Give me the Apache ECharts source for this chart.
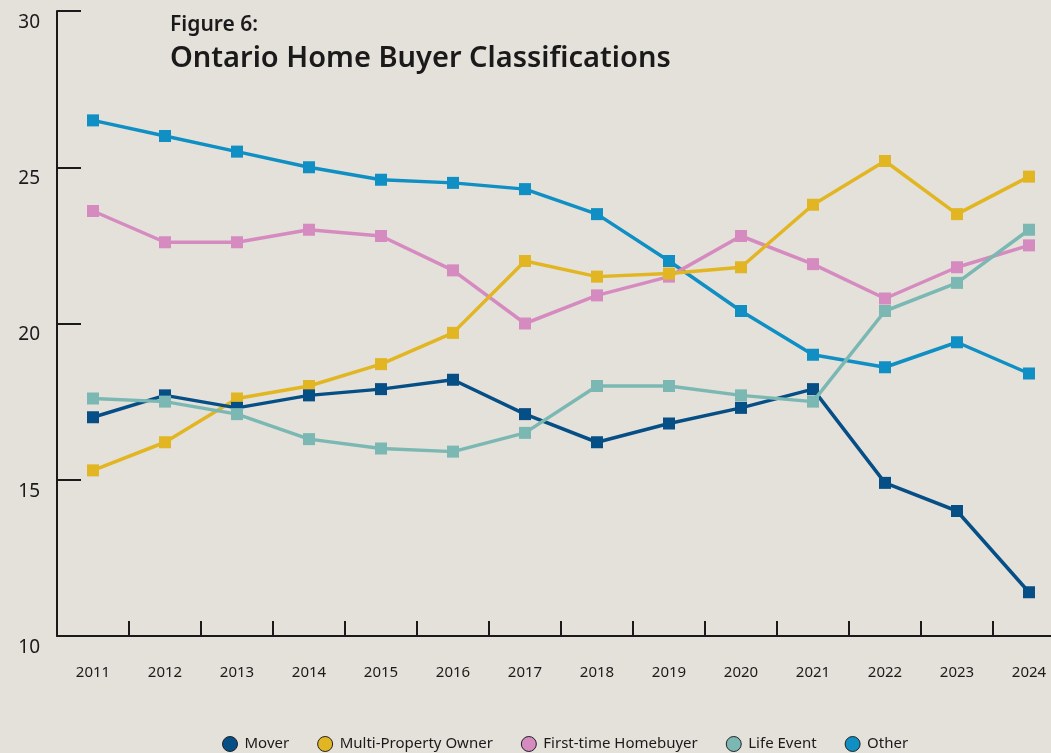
<!DOCTYPE html>
<html>
<head>
<meta charset="utf-8">
<script src="https://cdn.jsdelivr.net/npm/echarts@6/dist/echarts.min.js"></script>
<style>
  html, body { margin: 0; padding: 0; background: #e4e0da; overflow: hidden; }
  /* the figure's x axis runs past the right edge, so the canvas is a bit wider than the window */
  #chart { width: 1065px; height: 753px; }
</style>
</head>
<body>
<div id="chart"></div>
<script>
  // data
  const years = ['2011', '2012', '2013', '2014', '2015', '2016', '2017', '2018', '2019', '2020', '2021', '2022', '2023', '2024']
  const mover = [17.0, 17.7, 17.3, 17.7, 17.9, 18.2, 17.1, 16.2, 16.8, 17.3, 17.9, 14.9, 14.0, 11.4]
  const multiProperty = [15.3, 16.2, 17.6, 18.0, 18.7, 19.7, 22.0, 21.5, 21.6, 21.8, 23.8, 25.2, 23.5, 24.7]
  const firstTime = [23.6, 22.6, 22.6, 23.0, 22.8, 21.7, 20.0, 20.9, 21.5, 22.8, 21.9, 20.8, 21.8, 22.5]
  const lifeEvent = [17.6, 17.5, 17.1, 16.3, 16.0, 15.9, 16.5, 18.0, 18.0, 17.7, 17.5, 20.4, 21.3, 23.0]
  const other = [26.5, 26.0, 25.5, 25.0, 24.6, 24.5, 24.3, 23.5, 22.0, 20.4, 19.0, 18.6, 19.4, 18.4]

  const font = 'Noto Sans'
  const ink = '#1a1a1a'

  const makeSeries = (name, data, color, z) => ({
    name: name,
    type: 'line',
    data: data,
    z: z,
    symbol: 'rect',
    symbolSize: 12,
    color: color,
    lineStyle: { width: 3.5, color: color },
    itemStyle: { color: color },
    emphasis: { disabled: true }
  })

  const chart = echarts.init(document.getElementById('chart'))

  const option = {
    backgroundColor: '#e4e0da',
    animation: false,
    textStyle: { fontFamily: font },
    title: [
      {
        text: 'Figure 6:',
        left: 165,
        top: 10,
        textStyle: { fontFamily: font, fontSize: 21, fontWeight: 600, color: ink }
      },
      {
        text: 'Ontario Home Buyer Classifications',
        left: 165,
        top: 39,
        textStyle: { fontFamily: font, fontSize: 29, fontWeight: 600, color: ink }
      }
    ],
    legend: {
      left: 217,
      top: 731,
      icon: 'circle',
      itemWidth: 15,
      itemHeight: 15,
      itemGap: 28,
      itemStyle: { borderColor: '#222', borderWidth: 1 },
      textStyle: { fontFamily: font, fontSize: 15, color: ink, padding: [0, 0, 0, 2] },
      data: ['Mover', 'Multi-Property Owner', 'First-time Homebuyer', 'Life Event', 'Other']
    },
    grid: { left: 57, right: 0, top: 11, bottom: 117, containLabel: false },
    xAxis: {
      type: 'category',
      data: years,
      boundaryGap: true,
      axisLine: { lineStyle: { color: ink, width: 2 } },
      axisTick: { show: true, inside: true, length: 15, lineStyle: { color: ink, width: 2 } },
      axisLabel: { color: ink, fontSize: 15, margin: 29, fontFamily: font }
    },
    yAxis: {
      type: 'value',
      min: 10,
      max: 30,
      interval: 5,
      splitLine: { show: false },
      axisLine: { show: true, lineStyle: { color: ink, width: 2 } },
      axisTick: { show: true, inside: true, length: 24, lineStyle: { color: ink, width: 2 } },
      axisLabel: {
        color: ink,
        fontSize: 19,
        margin: 17,
        verticalAlign: 'top',
        padding: [2, 0, 0, 0],
        fontFamily: font
      }
    },
    series: [
      makeSeries('Other', other, '#0f8fc3', 2),
      makeSeries('First-time Homebuyer', firstTime, '#d68bc0', 3),
      makeSeries('Multi-Property Owner', multiProperty, '#e2b623', 4),
      makeSeries('Mover', mover, '#064f86', 5),
      makeSeries('Life Event', lifeEvent, '#7bb8b3', 6)
    ]
  }

  chart.setOption(option)
</script>
</body>
</html>
